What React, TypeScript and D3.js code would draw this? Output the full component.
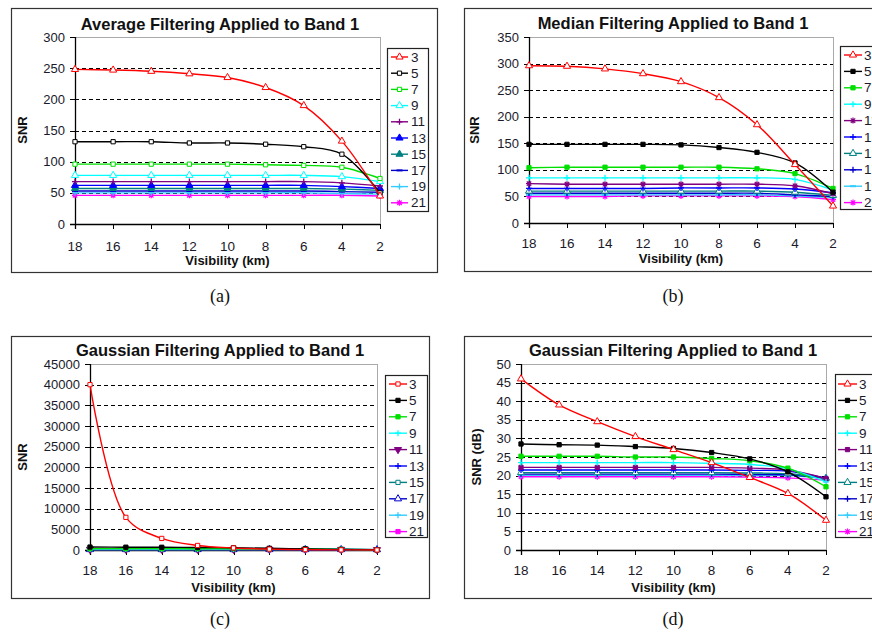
import React from "react";
import * as d3 from "d3";

const visibility = [18, 16, 14, 12, 10, 8, 6, 4, 2];
const kernelSizes = ["3", "5", "7", "9", "11", "13", "15", "17", "19", "21"];
const seriesColors = ["#FF0000", "#000000", "#00E000", "#00FFFF", "#800080", "#0000FF", "#008080", "#0000CC", "#33CCFF", "#FF00FF"];

// (a) Average filtering, SNR
const averageSNR: number[][] = [
  [248, 247, 245, 241, 235, 219, 190, 133, 45],
  [132, 132, 132, 130, 130, 128, 124, 112, 50],
  [96, 96, 96, 96, 96, 95, 94, 91, 73],
  [78, 78, 78, 78, 78, 78, 78, 76, 68],
  [68, 68, 68, 68, 68, 68, 68, 66, 61],
  [62, 62, 62, 62, 62, 62, 62, 60, 57],
  [57, 57, 57, 57, 57, 57, 57, 56, 54],
  [53, 53, 53, 53, 53, 53, 53, 52, 51],
  [50, 50, 50, 50, 50, 50, 50, 49, 48],
  [46, 46, 46, 46, 46, 46, 46, 46, 45],
];
// (b) Median filtering, SNR
const medianSNR: number[][] = [
  [296, 295, 290, 281, 266, 236, 185, 110, 32],
  [148, 148, 148, 148, 147, 142, 133, 113, 58],
  [104, 105, 105, 105, 105, 105, 102, 93, 65],
  [85, 85, 85, 85, 85, 85, 85, 82, 62],
  [74, 73, 73, 73, 73, 73, 73, 70, 55],
  [65, 65, 65, 65, 66, 66, 66, 64, 57],
  [60, 60, 60, 60, 60, 60, 60, 58, 52],
  [56, 56, 56, 56, 56, 56, 56, 53, 50],
  [53, 53, 53, 53, 53, 53, 53, 51, 48],
  [50, 50, 50, 51, 51, 51, 51, 50, 44],
];
// (c) Gaussian filtering, SNR (linear)
const gaussianSNR: number[][] = [
  [40000, 7900, 2800, 1100, 500, 220, 90, 33, 6],
  [710, 680, 660, 600, 540, 420, 280, 130, 27],
  [330, 330, 330, 320, 320, 290, 250, 160, 50],
  [220, 220, 220, 220, 220, 210, 200, 150, 68],
  [165, 165, 165, 165, 165, 165, 160, 140, 83],
  [140, 140, 140, 140, 140, 140, 138, 130, 85],
  [120, 120, 120, 120, 120, 120, 118, 112, 85],
  [110, 110, 110, 110, 110, 110, 108, 105, 85],
  [102, 102, 102, 102, 102, 102, 100, 100, 83],
  [93, 93, 93, 93, 93, 93, 91, 87, 76],
];
// (d) Gaussian filtering, SNR (dB)
const gaussianSNRdB: number[][] = [
  [46, 39, 34.5, 30.5, 27, 23.5, 19.5, 15.2, 8],
  [28.5, 28.3, 28.2, 27.8, 27.3, 26.2, 24.5, 21, 14.3],
  [25.2, 25.2, 25.2, 25, 25, 24.6, 24, 22, 17],
  [23.5, 23.5, 23.5, 23.5, 23.5, 23.3, 23, 21.8, 18.3],
  [22.2, 22.2, 22.2, 22.2, 22.2, 22.2, 22, 21.5, 19.2],
  [21.5, 21.5, 21.5, 21.5, 21.5, 21.5, 21.4, 21.2, 19.3],
  [20.8, 20.8, 20.8, 20.8, 20.8, 20.8, 20.7, 20.5, 19.3],
  [20.4, 20.4, 20.4, 20.4, 20.4, 20.4, 20.3, 20.2, 19.3],
  [20.1, 20.1, 20.1, 20.1, 20.1, 20.1, 20, 20, 19.2],
  [19.7, 19.7, 19.7, 19.7, 19.7, 19.7, 19.6, 19.4, 18.8],
];

const avgTicks = [0, 50, 100, 150, 200, 250, 300];
const medTicks = [0, 50, 100, 150, 200, 250, 300, 350];
const gauTicks = [0, 5000, 10000, 15000, 20000, 25000, 30000, 35000, 40000, 45000];
const dbTicks = [0, 5, 10, 15, 20, 25, 30, 35, 40, 45, 50];

const avgMarkers = ["triO", "sqO", "sqO", "triO", "plus", "triF", "triF", "dash", "plus", "star"];
const medMarkers = ["triO", "sqF", "sqF", "plus", "star", "plus", "triO", "plus", "dash", "star"];
const gauMarkers = ["sqO", "sqF", "sqF", "plus", "triD", "plus", "sqO", "triO", "plus", "sqF"];
const dbMarkers = ["triO", "sqF", "sqF", "plus", "sqF", "plus", "triO", "plus", "plus", "star"];

const SANS = "'Liberation Sans', Arial, sans-serif";

function Marker({ type, cx, cy, color }: { type: string; cx: number; cy: number; color: string }) {
  const t = `translate(${cx},${cy})`;
  if (type === "triO" || type === "triF") {
    return <path transform={t} d={d3.symbol(d3.symbolTriangle, 22)() || ""} fill={type === "triF" ? color : "white"} stroke={color} strokeWidth={1} />;
  }
  if (type === "triD") {
    return <path transform={t + " rotate(180)"} d={d3.symbol(d3.symbolTriangle, 22)() || ""} fill={color} stroke={color} strokeWidth={1} />;
  }
  if (type === "sqO" || type === "sqF") {
    return <path transform={t} d={d3.symbol(d3.symbolSquare, 18)() || ""} fill={type === "sqF" ? color : "white"} stroke={color} strokeWidth={1} />;
  }
  if (type === "plus") {
    return <path transform={t} d="M-3,0H3M0,-3V3" stroke={color} strokeWidth={1.3} fill="none" />;
  }
  if (type === "star") {
    return <path transform={t} d="M-3,0H3M0,-3V3M-2.2,-2.2L2.2,2.2M-2.2,2.2L2.2,-2.2" stroke={color} strokeWidth={1.2} fill="none" />;
  }
  return <path transform={t} d="M-3,0H3" stroke={color} strokeWidth={2} fill="none" />;
}

type Cfg = {
  box: { x: number; y: number; w: number; h: number };
  plot: { l: number; r: number; t: number; b: number };
  yDomain: [number, number];
  yTicks: number[];
  data: number[][];
  markers: string[];
  title: string;
  titleX: number;
  titleY: number;
  yLabel: string;
  yLabelX: number;
  yLabelY: number;
  xTickY: number;
  xTitleY: number;
  legend: { x: number; y: number; w: number; h: number; y0: number; dy: number; lx0: number; lx1: number; tx: number };
  caption: string;
  capX: number;
  capY: number;
};

function Panel({ c }: { c: Cfg }) {
  const x = d3.scaleLinear().domain([18, 2]).range([c.plot.l, c.plot.r]);
  const y = d3.scaleLinear().domain(c.yDomain).range([c.plot.b, c.plot.t]);
  const line = d3
    .line<number>()
    .x((_, i) => x(visibility[i]))
    .y((d) => y(d))
    .curve(d3.curveCatmullRom.alpha(0.5));
  const order = d3.range(c.data.length).reverse();
  return (
    <g>
      <rect x={c.box.x + 0.5} y={c.box.y + 0.5} width={c.box.w} height={c.box.h} fill="white" stroke="#333" strokeWidth={1.2} />
      <text x={c.titleX} y={c.titleY} textAnchor="middle" dominantBaseline="central" fontFamily={SANS} fontWeight="bold" fontSize={16.5} fill="#111">
        {c.title}
      </text>
      {/* plot border */}
      <line x1={c.plot.l} x2={c.plot.r} y1={c.plot.t + 0.5} y2={c.plot.t + 0.5} stroke="#aaa" strokeWidth={1} />
      <line x1={c.plot.r + 0.5} x2={c.plot.r + 0.5} y1={c.plot.t} y2={c.plot.b} stroke="#aaa" strokeWidth={1} />
      {/* grid */}
      {c.yTicks
        .filter((v) => v !== c.yDomain[0] && v !== c.yDomain[1])
        .map((v) => (
          <line key={"g" + v} x1={c.plot.l} x2={c.plot.r} y1={Math.round(y(v)) + 0.5} y2={Math.round(y(v)) + 0.5} stroke="#000" strokeWidth={1} strokeDasharray="4,3" />
        ))}
      {/* axes */}
      <line x1={c.plot.l + 0.5} x2={c.plot.l + 0.5} y1={c.plot.t} y2={c.plot.b + 5} stroke="#000" strokeWidth={1.3} />
      <line x1={c.plot.l - 5} x2={c.plot.r} y1={c.plot.b + 0.5} y2={c.plot.b + 0.5} stroke="#000" strokeWidth={1.3} />
      {c.yTicks.map((v) => (
        <g key={"yt" + v}>
          <line x1={c.plot.l - 5} x2={c.plot.l} y1={Math.round(y(v)) + 0.5} y2={Math.round(y(v)) + 0.5} stroke="#000" />
          <text x={c.plot.l - 10} y={y(v)} textAnchor="end" dominantBaseline="central" fontFamily={SANS} fontSize={13} fill="#1a1a2a">
            {v}
          </text>
        </g>
      ))}
      {visibility.map((v) => (
        <g key={"xt" + v}>
          <line x1={Math.round(x(v)) + 0.5} x2={Math.round(x(v)) + 0.5} y1={c.plot.b} y2={c.plot.b + 5} stroke="#000" />
          <text x={x(v)} y={c.xTickY} textAnchor="middle" dominantBaseline="central" fontFamily={SANS} fontSize={13.5} fill="#1a1a2a">
            {v}
          </text>
        </g>
      ))}
      <text x={(c.plot.l + c.plot.r) / 2} y={c.xTitleY} textAnchor="middle" dominantBaseline="central" fontFamily={SANS} fontWeight="bold" fontSize={13} fill="#111">
        Visibility (km)
      </text>
      <text
        transform={`translate(${c.yLabelX},${c.yLabelY}) rotate(-90)`}
        textAnchor="middle"
        dominantBaseline="central"
        fontFamily={SANS}
        fontWeight="bold"
        fontSize={13}
        fill="#111"
      >
        {c.yLabel}
      </text>
      {/* series */}
      {order.map((si) => (
        <g key={"s" + si}>
          <path d={line(c.data[si]) || ""} fill="none" stroke={seriesColors[si]} strokeWidth={1.4} />
          {c.data[si].map((d, i) => (
            <Marker key={i} type={c.markers[si]} cx={x(visibility[i])} cy={y(d)} color={seriesColors[si]} />
          ))}
        </g>
      ))}
      {/* legend */}
      <rect x={c.legend.x + 0.5} y={c.legend.y + 0.5} width={c.legend.w} height={c.legend.h} fill="white" stroke="#222" strokeWidth={1.2} />
      {kernelSizes.map((k, i) => {
        const ly = c.legend.y0 + i * c.legend.dy;
        return (
          <g key={"l" + k}>
            <line x1={c.legend.lx0} x2={c.legend.lx1} y1={ly} y2={ly} stroke={seriesColors[i]} strokeWidth={1.4} />
            <Marker type={c.markers[i]} cx={(c.legend.lx0 + c.legend.lx1) / 2} cy={ly} color={seriesColors[i]} />
            <text x={c.legend.tx} y={ly} dominantBaseline="central" fontFamily={SANS} fontSize={13.5} fill="#1a1a2a">
              {k}
            </text>
          </g>
        );
      })}
      <text x={c.capX} y={c.capY} textAnchor="middle" dominantBaseline="central" fontFamily="'Liberation Serif', 'Times New Roman', serif" fontSize={18} fill="#111">
        {c.caption}
      </text>
    </g>
  );
}

const panels: Cfg[] = [
  {
    box: { x: 11, y: 8, w: 426, h: 264 },
    plot: { l: 75, r: 380, t: 37, b: 224 },
    yDomain: [0, 300],
    yTicks: avgTicks,
    data: averageSNR,
    markers: avgMarkers,
    title: "Average Filtering Applied to Band 1",
    titleX: 220,
    titleY: 24,
    yLabel: "SNR",
    yLabelX: 22,
    yLabelY: 130,
    xTickY: 246,
    xTitleY: 260,
    legend: { x: 387, y: 48, w: 41, h: 163, y0: 57, dy: 16.2, lx0: 391, lx1: 408, tx: 411 },
    caption: "(a)",
    capX: 220,
    capY: 296,
  },
  {
    box: { x: 464, y: 8, w: 420, h: 263 },
    plot: { l: 529, r: 833, t: 37, b: 223 },
    yDomain: [0, 350],
    yTicks: medTicks,
    data: medianSNR,
    markers: medMarkers,
    title: "Median Filtering Applied to Band 1",
    titleX: 673,
    titleY: 23,
    yLabel: "SNR",
    yLabelX: 474,
    yLabelY: 130,
    xTickY: 243,
    xTitleY: 258,
    legend: { x: 840, y: 46, w: 50, h: 163, y0: 55, dy: 16.4, lx0: 844, lx1: 862, tx: 864 },
    caption: "(b)",
    capX: 673,
    capY: 296,
  },
  {
    box: { x: 11, y: 336, w: 418, h: 262 },
    plot: { l: 90, r: 377, t: 364, b: 550 },
    yDomain: [0, 45000],
    yTicks: gauTicks,
    data: gaussianSNR,
    markers: gauMarkers,
    title: "Gaussian Filtering Applied to Band 1",
    titleX: 220,
    titleY: 350,
    yLabel: "SNR",
    yLabelX: 22,
    yLabelY: 457,
    xTickY: 570,
    xTitleY: 587,
    legend: { x: 385, y: 375, w: 42, h: 162, y0: 384, dy: 16.4, lx0: 389, lx1: 407, tx: 409 },
    caption: "(c)",
    capX: 220,
    capY: 619,
  },
  {
    box: { x: 464, y: 336, w: 420, h: 262 },
    plot: { l: 521, r: 826, t: 364, b: 550 },
    yDomain: [0, 50],
    yTicks: dbTicks,
    data: gaussianSNRdB,
    markers: dbMarkers,
    title: "Gaussian Filtering Applied to Band 1",
    titleX: 673,
    titleY: 350,
    yLabel: "SNR (dB)",
    yLabelX: 476,
    yLabelY: 457,
    xTickY: 570,
    xTitleY: 587,
    legend: { x: 835, y: 374, w: 50, h: 163, y0: 384, dy: 16.4, lx0: 838, lx1: 857, tx: 859 },
    caption: "(d)",
    capX: 673,
    capY: 619,
  },
];

export default function App() {
  return (
    <svg width={872} height={632} style={{ position: "absolute", left: 0, top: 0, background: "white" }}>
      <rect x={0} y={0} width={872} height={632} fill="white" />
      {panels.map((p, i) => (
        <Panel key={i} c={p} />
      ))}
    </svg>
  );
}
